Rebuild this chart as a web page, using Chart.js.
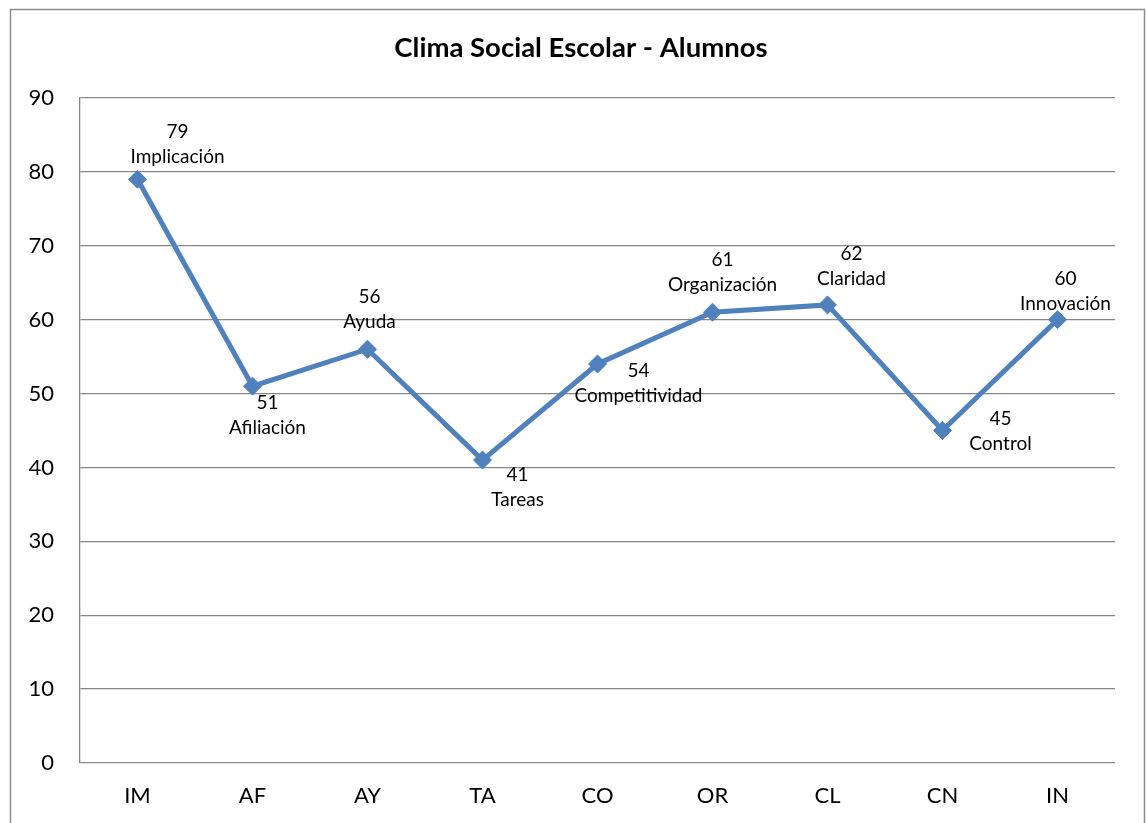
<!DOCTYPE html>
<html>
<head>
<meta charset="utf-8">
<script src="https://cdn.jsdelivr.net/npm/chart.js@4.4.1/dist/chart.umd.min.js"></script>
<style>
html,body{margin:0;padding:0;background:#fff;}
#wrap{position:relative;width:1146px;height:823px;}
</style>
</head>
<body>
<div id="wrap"><canvas id="c" width="1146" height="823"></canvas></div>
<script>
const categories = ["IM","AF","AY","TA","CO","OR","CL","CN","IN"];
const dimensionNames = ["Implicación","Afiliación","Ayuda","Tareas","Competitividad","Organización","Claridad","Control","Innovación"];
const values = [79,51,56,41,54,61,62,45,60];
const yTicks = [0,10,20,30,40,50,60,70,80,90];
const chartTitle = 'Clima Social Escolar - Alumnos';

// label placement relative to each point (dx, dy of first line center)
const labelOffsets = [[40,-47],[15,17],[2,-52],[35,15],[41,7],[10,-52],[24,-51],[58,-12],[8,-41]];

const FONT = "Lato, 'Open Sans', sans-serif";

const framePlugin = {
  id: 'frame',
  beforeDraw(chart){
    const ctx = chart.ctx;
    ctx.save();
    ctx.strokeStyle = '#8c8c8c';
    ctx.lineWidth = 1.5;
    ctx.strokeRect(10.5, 9.5, 1134, 830);
    ctx.fillStyle = '#000';
    ctx.font = "bold 27.5px " + FONT;
    ctx.textAlign = 'center';
    ctx.textBaseline = 'middle';
    ctx.fillText(chartTitle, 581, 48);
    ctx.restore();
  }
};

const labelPlugin = {
  id: 'pointLabels',
  afterDatasetsDraw(chart){
    const ctx = chart.ctx;
    const meta = chart.getDatasetMeta(0);
    ctx.save();
    ctx.fillStyle = '#000';
    ctx.font = "19px " + FONT;
    ctx.textAlign = 'center';
    ctx.textBaseline = 'middle';
    meta.data.forEach((pt, i) => {
      const [dx, dy] = labelOffsets[i];
      ctx.fillText(String(values[i]), pt.x + dx, pt.y + dy);
      ctx.fillText(dimensionNames[i], pt.x + dx, pt.y + dy + 25);
    });
    ctx.restore();
  }
};

new Chart(document.getElementById('c'), {
  type: 'line',
  data: {
    labels: categories,
    datasets: [{
      data: values,
      borderColor: '#4F81BD',
      backgroundColor: '#4F81BD',
      borderWidth: 5,
      pointStyle: 'rectRot',
      pointRadius: 9,
      pointHoverRadius: 9,
      pointBorderWidth: 1,
      tension: 0,
      fill: false
    }]
  },
  options: {
    responsive: false,
    animation: false,
    events: [],
    layout: { padding: { top: 98, left: 0, right: 31, bottom: 0 } },
    plugins: {
      legend: { display: false },
      tooltip: { enabled: false },
      title: { display: false }
    },
    scales: {
      x: {
        offset: true,
        grid: { display: false, drawTicks: false },
        border: { display: false },
        ticks: { color: '#000', font: { family: FONT, size: 22 }, padding: 20 },
        afterFit(s){ s.height = 60; }
      },
      y: {
        min: 0, max: 90,
        afterBuildTicks(s){ s.ticks = yTicks.map(v => ({ value: v })); },
        grid: { color: '#878787', lineWidth: 1.3, drawTicks: false },
        border: { display: true, color: '#878787', width: 1.3 },
        ticks: { color: '#000', font: { family: FONT, size: 22 }, padding: 26 },
        afterFit(s){ s.width = 80; }
      }
    }
  },
  plugins: [framePlugin, labelPlugin]
});
</script>
</body>
</html>
